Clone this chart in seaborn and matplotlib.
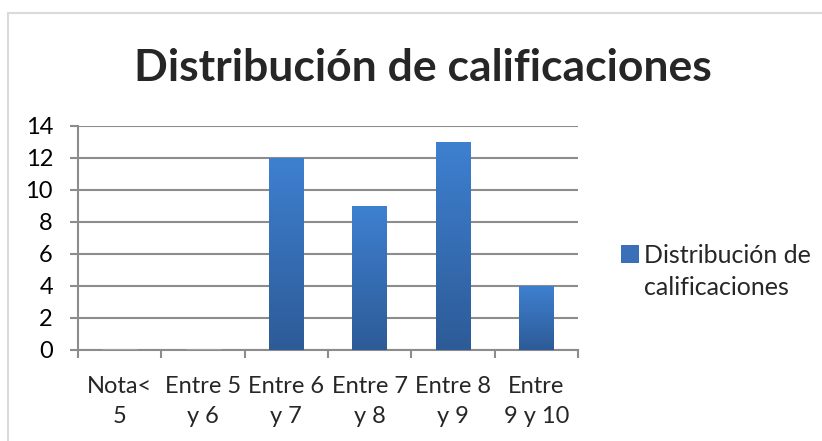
import numpy as np
import pandas as pd
import matplotlib
matplotlib.use("Agg")
import matplotlib.pyplot as plt
import seaborn as sns
from matplotlib.colors import LinearSegmentedColormap
from matplotlib.patches import Rectangle, Patch

# ---------------- data ----------------
categorias = ["Nota<\n5", "Entre 5\ny 6", "Entre 6\ny 7", "Entre 7\ny 8", "Entre 8\ny 9", "Entre\n9 y 10"]
valores = [0, 0, 12, 9, 13, 4]
serie = "Distribución de\ncalificaciones"
titulo = "Distribución de calificaciones"
y_ticks = [0, 2, 4, 6, 8, 10, 12, 14]

sns.set_style("white")
plt.rcParams["font.family"] = ["Lato", "DejaVu Sans"]

fig = plt.figure(figsize=(8.22, 4.41), dpi=100)
ax = fig.add_axes([78 / 822, 1 - 350 / 441, 500 / 822, 224 / 441])

df = pd.DataFrame({"cat": categorias, "val": valores})
sns.barplot(data=df, x="cat", y="val", color="#3A70B8", width=0.42, ax=ax, zorder=3)

# gradient fill for bars (lighter top, darker bottom)
cmap = LinearSegmentedColormap.from_list("barra", ["#2D5B97", "#3E80D0"])
grad = np.linspace(0, 1, 256).reshape(-1, 1)
for p in ax.patches:
    x0, y0 = p.get_x(), p.get_y()
    w, h = p.get_width(), p.get_height()
    if h <= 0:
        continue
    p.set_facecolor("none")
    p.set_edgecolor("none")
    im = ax.imshow(grad, extent=[x0, x0 + w, y0, y0 + h], origin="lower",
                   cmap=cmap, aspect="auto", zorder=3)
    im.set_clip_path(p)

ax.set_xlim(-0.5, len(categorias) - 0.5)
ax.set_ylim(0, 14)
ax.set_yticks(y_ticks)
ax.set_xlabel("")
ax.set_ylabel("")

# grid & axes
ax.yaxis.grid(True, color="#8C8C8C", linewidth=1.5, zorder=1)
ax.set_axisbelow(True)
for s in ["top", "right"]:
    ax.spines[s].set_visible(False)
for s in ["left", "bottom"]:
    ax.spines[s].set_color("#8C8C8C")
    ax.spines[s].set_linewidth(1.5)

ax.tick_params(axis="y", labelsize=17, length=6, width=1.5, color="#8C8C8C",
               left=True, pad=12, labelcolor="black")
ax.set_xticks(range(len(categorias)))
ax.set_xticklabels(categorias, fontsize=17, linespacing=1.5)
ax.tick_params(axis="x", length=0, pad=19)
ax.set_xticks(np.arange(-0.5, len(categorias)), minor=True)
ax.tick_params(axis="x", which="minor", length=6, width=1.5, color="#8C8C8C", bottom=True)

fig.text(0.514, 0.845, titulo, ha="center", va="center", fontsize=32, fontweight="bold")

leg = ax.legend(handles=[Patch(facecolor="#3A70B8", edgecolor="none", label=serie)],
                loc="center left", bbox_to_anchor=(1.085, 0.35), frameon=False,
                fontsize=18, handlelength=0.72, handleheight=0.72, handletextpad=0.2,
                borderpad=0, borderaxespad=0)
for t in leg.get_texts():
    t.set_linespacing(1.5)
# marker sits next to the first line, like the original
h = leg.legend_handles[0]
h.set_y(h.get_y() + 13)

# outer chart frame
fig.patches.append(Rectangle((8 / 822, -0.05), 1.0, 1 - 13 / 441 + 0.05,
                             transform=fig.transFigure, fill=False,
                             edgecolor="#DADADA", linewidth=1.5))

fig.savefig("out.png", dpi=100)
